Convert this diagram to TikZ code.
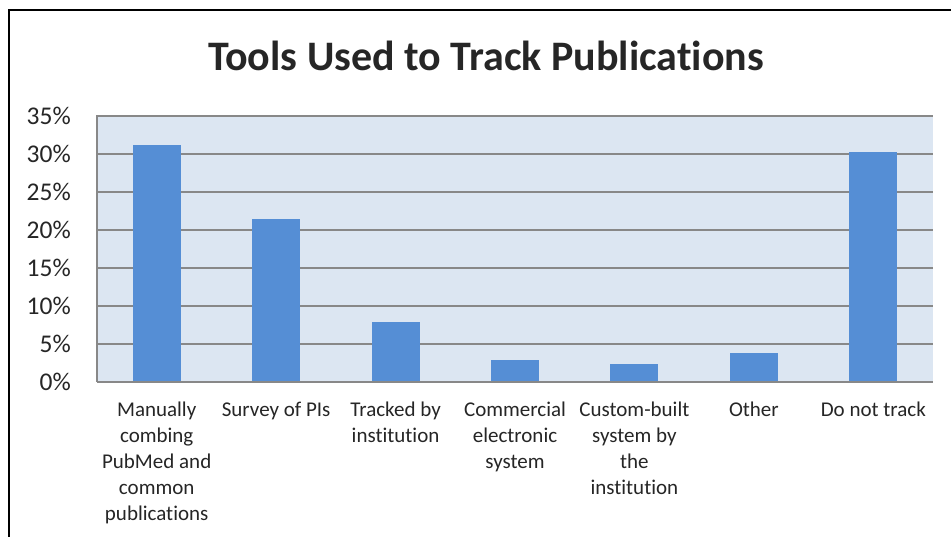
\documentclass[tikz,border=0pt]{standalone}
\usepackage{fontspec}
\setmainfont{Carlito}[RawFeature={-liga}]
\definecolor{barblue}{HTML}{558ED5}
\definecolor{plotbg}{HTML}{DCE6F2}
\definecolor{gridgray}{HTML}{888888}
\definecolor{txt}{HTML}{262626}
\begin{document}
\begin{tikzpicture}[x=1pt,y=-1pt,
  bar/.style={fill=barblue,draw=none},
  gridline/.style={draw=gridgray,line width=1.6pt},
  ylab/.style={anchor=east,inner sep=0pt,text=txt,font=\fontsize{25.5}{30}\selectfont},
  catlab/.style={anchor=base,inner sep=0pt,text=txt,font=\fontsize{21}{25.8}\selectfont},
  titlestyle/.style={anchor=base,inner sep=0pt,text=txt,font=\fontsize{42}{50}\selectfont\bfseries}]
\useasboundingbox (0,0) rectangle (951,537);
\fill[white] (0,0) rectangle (951,537);
% frame
\draw[line width=2pt,black] (9,537) -- (9,10) -- (951,10);
% title
\node[titlestyle] (title) at (486,71) {Tools Used to Track Publications};
% plot area
\fill[plotbg] (97,115.5) rectangle (933,382);
\foreach \v [count=\i from 0] in {0,5,...,35} {
  \pgfmathsetmacro{\yy}{382-\i*38}
  \draw[gridline] (97,\yy) -- (933,\yy);
  \node[ylab] (y\i) at (71,\yy) {\v\%};
}
\draw[gridline] (97,115.5) -- (97,382);
% bars
\foreach \val [count=\i] in {31.2,21.4,7.9,2.85,2.4,3.8,30.3} {
  \pgfmathsetmacro{\cx}{97+(\i-0.5)*119.43}
  \pgfmathsetmacro{\top}{382-\val*7.6}
  \fill[bar] (\cx-24,\top) rectangle (\cx+24,381.2);
}
\draw[gridline] (97,382) -- (933,382);
% category labels
\node[catlab] (c1) at (156.7,417) {\begin{tabular}[t]{@{}c@{}}Manually\\combing\\PubMed and\\common\\publications\end{tabular}};
\node[catlab] (c2) at (276.1,417) {\begin{tabular}[t]{@{}c@{}}Survey of PIs\end{tabular}};
\node[catlab] (c3) at (395.6,417) {\begin{tabular}[t]{@{}c@{}}Tracked by\\institution\end{tabular}};
\node[catlab] (c4) at (515.0,417) {\begin{tabular}[t]{@{}c@{}}Commercial\\electronic\\system\end{tabular}};
\node[catlab] (c5) at (634.4,417) {\begin{tabular}[t]{@{}c@{}}Custom-built\\system by\\the\\institution\end{tabular}};
\node[catlab] (c6) at (753.9,417) {\begin{tabular}[t]{@{}c@{}}Other\end{tabular}};
\node[catlab] (c7) at (873.3,417) {\begin{tabular}[t]{@{}c@{}}Do not track\end{tabular}};
\end{tikzpicture}
\end{document}
